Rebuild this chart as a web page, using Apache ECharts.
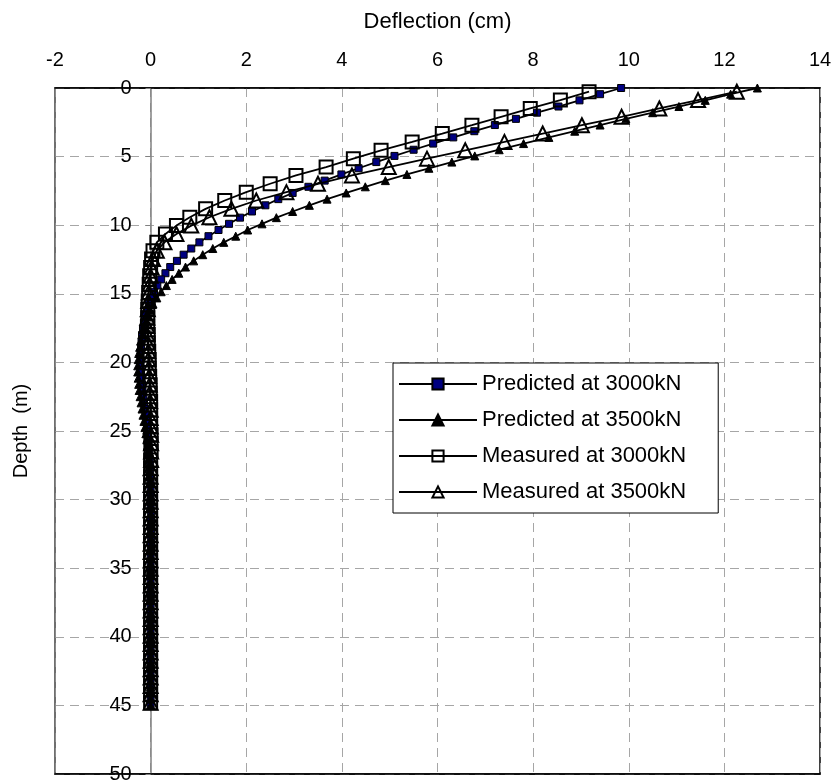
<!DOCTYPE html>
<html>
<head>
<meta charset="utf-8">
<script src="https://cdn.jsdelivr.net/npm/echarts@6/dist/echarts.min.js"></script>
<style>
  html, body { margin: 0; padding: 0; background: #fff; }
  #chart { width: 837px; height: 783px; }
</style>
</head>
<body>
<div id="chart"></div>
<script>
// Lateral deflection profiles of the pile, depth measured downward.
const seriesNames = [
  'Predicted at 3000kN',
  'Predicted at 3500kN',
  'Measured at 3000kN',
  'Measured at 3500kN'
];

// Predicted profiles: one value per element node, nodes every 0.45 m from 0 to 45 m.
const predictedDepthStart = 0;
const predictedDepthStep = 0.45;

// Measured profiles: inclinometer readings every 0.61 m (2 ft), first reading at 0.27 m.
const measuredDepthStart = 0.27;
const measuredDepthStep = 0.61;

// Deflections in cm
const predicted3000 = [
  9.84, 9.40, 8.97, 8.53, 8.08, 7.64, 7.20, 6.77, 6.33, 5.91,
  5.50, 5.10, 4.72, 4.35, 3.99, 3.64, 3.30, 2.97, 2.67, 2.40,
  2.12, 1.87, 1.64, 1.42, 1.21, 1.02, 0.85, 0.69, 0.55, 0.41,
  0.31, 0.22, 0.14, 0.07, 0.01, -0.04, -0.08, -0.11, -0.14, -0.16,
  -0.18, -0.19, -0.20, -0.21, -0.21, -0.21, -0.20, -0.19, -0.18, -0.17,
  -0.15, -0.14, -0.12, -0.10, -0.09, -0.07, -0.06, -0.05, -0.04, -0.03,
  -0.02, -0.01, -0.01, -0.01, 0.00, 0.00, 0.00, 0.00, 0.00, 0.01,
  0.01, 0.01, 0.01, 0.01, 0.01, 0.01, 0.00, 0.00, 0.00, 0.00,
  0.00, 0.00, 0.00, 0.00, 0.00, 0.00, 0.00, 0.00, 0.00, 0.00,
  0.00, 0.00, 0.00, 0.00, 0.00, 0.00, 0.00, 0.00, 0.00, 0.00,
  0.00
];

const predicted3500 = [
  12.69, 12.13, 11.60, 11.05, 10.50, 9.94, 9.40, 8.87, 8.33, 7.80,
  7.29, 6.78, 6.30, 5.82, 5.36, 4.91, 4.49, 4.09, 3.69, 3.32,
  2.97, 2.63, 2.33, 2.03, 1.78, 1.53, 1.30, 1.09, 0.90, 0.73,
  0.59, 0.45, 0.33, 0.22, 0.13, 0.05, -0.01, -0.06, -0.11, -0.15,
  -0.18, -0.21, -0.23, -0.25, -0.26, -0.27, -0.27, -0.26, -0.25, -0.24,
  -0.22, -0.20, -0.18, -0.16, -0.14, -0.12, -0.10, -0.08, -0.07, -0.05,
  -0.04, -0.03, -0.02, -0.02, -0.01, -0.01, 0.00, 0.00, 0.00, 0.01,
  0.01, 0.01, 0.01, 0.01, 0.01, 0.01, 0.01, 0.00, 0.00, 0.00,
  0.00, 0.00, 0.00, 0.00, 0.00, 0.00, 0.00, 0.00, 0.00, 0.00,
  0.00, 0.00, 0.00, 0.00, 0.00, 0.00, 0.00, 0.00, 0.00, 0.00,
  0.00
];

const measured3000 = [
  9.17, 8.57, 7.94, 7.33, 6.72, 6.10, 5.47, 4.82, 4.24, 3.67,
  3.04, 2.50, 2.00, 1.55, 1.15, 0.82, 0.54, 0.31, 0.13, 0.05,
  0.02, 0.00, -0.02, -0.03, -0.04, -0.05, -0.06, -0.06, -0.06, -0.05,
  -0.05, -0.04, -0.03, -0.03, -0.02, -0.01, -0.01, 0.00, 0.00, 0.00,
  0.00, 0.01, 0.01, 0.01, 0.00, 0.00, 0.00, 0.00, 0.00, 0.00,
  0.00, 0.00, 0.00, 0.00, 0.00, 0.00, 0.00, 0.00, 0.00, 0.00,
  0.00, 0.00, 0.00, 0.00, 0.00, 0.00, 0.00, 0.00, 0.00, 0.00,
  0.00, 0.00, 0.00, 0.00
];

const measured3500 = [
  12.26, 11.45, 10.64, 9.85, 9.02, 8.20, 7.40, 6.58, 5.78, 4.98,
  4.21, 3.50, 2.84, 2.21, 1.69, 1.23, 0.85, 0.54, 0.29, 0.13,
  0.05, 0.02, 0.00, -0.02, -0.04, -0.05, -0.06, -0.07, -0.07, -0.07,
  -0.06, -0.05, -0.05, -0.04, -0.03, -0.02, -0.02, -0.01, 0.00, 0.00,
  0.00, 0.01, 0.01, 0.01, 0.01, 0.00, 0.00, 0.00, 0.00, 0.00,
  0.00, 0.00, 0.00, 0.00, 0.00, 0.00, 0.00, 0.00, 0.00, 0.00,
  0.00, 0.00, 0.00, 0.00, 0.00, 0.00, 0.00, 0.00, 0.00, 0.00,
  0.00, 0.00, 0.00, 0.00
];

// Axis ranges
const deflectionMin = -2, deflectionMax = 14, deflectionInterval = 2;
const depthMin = 0, depthMax = 50, depthInterval = 5;

// [deflection, depth] pairs for a profile sampled on a regular depth grid
function profile(values, depthStart, depthStep) {
  return values.map((v, i) => [v, +(depthStart + i * depthStep).toFixed(3)]);
}

const FONT = 'Arial, "Liberation Sans", sans-serif';
const gridDash = { color: '#a6a6a6', width: 1, type: [9, 6] };

const CHART_W = 837;
const GRID = { left: 55, right: 17, top: 88, bottom: 9 };
const plotWidth = CHART_W - GRID.left - GRID.right;
// The depth axis (with its labels) crosses the deflection axis at 0 cm.
const depthAxisShift = -plotWidth * (0 - deflectionMin) / (deflectionMax - deflectionMin);

const chart = echarts.init(document.getElementById('chart'), null, { renderer: 'canvas' });

chart.setOption({
  animation: false,
  backgroundColor: '#ffffff',
  textStyle: { fontFamily: FONT, color: '#000' },
  grid: {
    left: GRID.left, right: GRID.right, top: GRID.top, bottom: GRID.bottom,
    outerBoundsMode: 'none',
    containLabel: false,
    show: true, borderColor: '#000', borderWidth: 1.5, backgroundColor: '#fff'
  },
  legend: {
    data: seriesNames,
    orient: 'vertical',
    left: 393, top: 363,
    padding: [10, 32, 10, 5],
    itemGap: 14,
    itemWidth: 78,
    itemHeight: 14,
    backgroundColor: '#fff',
    borderColor: '#000',
    borderWidth: 1,
    borderRadius: 0,
    textStyle: { fontFamily: FONT, fontSize: 22, color: '#000' }
  },
  xAxis: [
    {
      type: 'value',
      position: 'top',
      min: deflectionMin, max: deflectionMax, interval: deflectionInterval,
      name: 'Deflection (cm)',
      nameLocation: 'middle',
      nameGap: 55,
      nameMoveOverlap: false,
      nameTextStyle: { fontFamily: FONT, fontSize: 22, color: '#000' },
      axisLine: { show: true, onZero: false, lineStyle: { color: '#000', width: 1.5 } },
      axisTick: { show: false },
      axisLabel: { fontFamily: FONT, fontSize: 20, color: '#000', margin: 18 },
      splitLine: { show: true, lineStyle: gridDash }
    },
    {
      type: 'value',
      position: 'bottom',
      min: deflectionMin, max: deflectionMax, interval: deflectionInterval,
      axisLine: { show: true, onZero: false, lineStyle: { color: '#000', width: 1.5 } },
      axisTick: { show: false },
      axisLabel: { show: false },
      splitLine: { show: false }
    }
  ],
  yAxis: [
    {
      type: 'value',
      inverse: true,
      position: 'left',
      offset: depthAxisShift,
      min: depthMin, max: depthMax, interval: depthInterval,
      name: 'Depth  (m)',
      nameLocation: 'middle',
      nameRotate: 90,
      nameGap: 119,
      nameMoveOverlap: false,
      nameTextStyle: { fontFamily: FONT, fontSize: 20, color: '#000' },
      axisLine: { show: true, onZero: false, lineStyle: { color: '#808080', width: 1.5 } },
      axisTick: { show: true, length: 5, lineStyle: { color: '#808080', width: 1 } },
      axisLabel: { fontFamily: FONT, fontSize: 20, color: '#000', margin: 19 },
      splitLine: { show: true, lineStyle: gridDash }
    },
    {
      type: 'value',
      inverse: true,
      position: 'left',
      min: depthMin, max: depthMax, interval: depthInterval,
      axisLine: { show: true, onZero: false, lineStyle: { color: '#808080', width: 1.5 } },
      axisTick: { show: false },
      axisLabel: { show: false },
      splitLine: { show: false }
    }
  ],
  series: [
    {
      name: seriesNames[0],
      type: 'line',
      xAxisIndex: 0, yAxisIndex: 0,
      data: profile(predicted3000, predictedDepthStart, predictedDepthStep),
      showAllSymbol: true,
      symbol: 'rect',
      symbolSize: 7,
      itemStyle: { color: '#000080', borderColor: '#000', borderWidth: 1 },
      lineStyle: { color: '#000', width: 1.8 },
      z: 2
    },
    {
      name: seriesNames[1],
      type: 'line',
      xAxisIndex: 0, yAxisIndex: 0,
      data: profile(predicted3500, predictedDepthStart, predictedDepthStep),
      showAllSymbol: true,
      symbol: 'triangle',
      symbolSize: 8,
      itemStyle: { color: '#000', borderColor: '#000', borderWidth: 1 },
      lineStyle: { color: '#000', width: 1.8 },
      z: 3
    },
    {
      name: seriesNames[2],
      type: 'line',
      xAxisIndex: 0, yAxisIndex: 0,
      data: profile(measured3000, measuredDepthStart, measuredDepthStep),
      showAllSymbol: true,
      symbol: 'rect',
      symbolSize: 13,
      itemStyle: { color: 'rgba(255,255,255,0)', borderColor: '#000', borderWidth: 2 },
      lineStyle: { color: '#000', width: 1.8 },
      z: 4
    },
    {
      name: seriesNames[3],
      type: 'line',
      xAxisIndex: 0, yAxisIndex: 0,
      data: profile(measured3500, measuredDepthStart, measuredDepthStep),
      showAllSymbol: true,
      symbol: 'triangle',
      symbolSize: 14,
      itemStyle: { color: 'rgba(255,255,255,0)', borderColor: '#000', borderWidth: 2 },
      lineStyle: { color: '#000', width: 1.8 },
      z: 5
    }
  ]
});
</script>
</body>
</html>
